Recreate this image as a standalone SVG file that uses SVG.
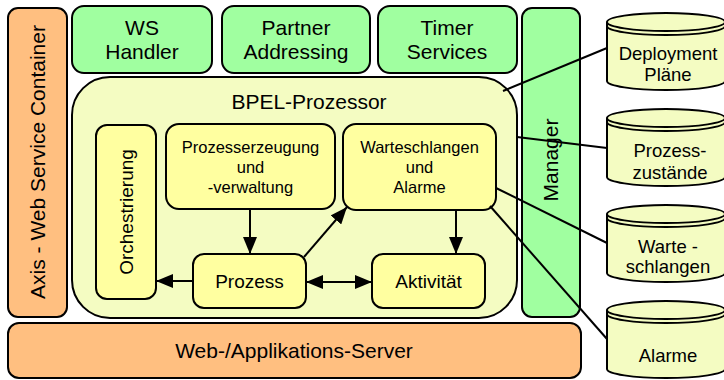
<svg xmlns="http://www.w3.org/2000/svg" width="724" height="380" viewBox="0 0 724 380">
<style>
text{font-family:"Liberation Sans",Arial,sans-serif;fill:#000;text-anchor:middle}
.b{stroke:#000;stroke-width:2}
.or{fill:#FFBF80}
.gr{fill:#A0FFA0}
.pa{fill:#F4FCC2}
.ye{fill:#FFFFA0}
.big{font-size:21px}
.mid{font-size:19px}
.sm{font-size:16.5px}
.cy{font-size:18.5px}
.ln{stroke:#000;stroke-width:2;fill:none}
</style>
<defs>
<marker id="ah" markerUnits="userSpaceOnUse" markerWidth="17" markerHeight="14" refX="17" refY="7" orient="auto-start-reverse">
<path d="M0,0 L17,7 L0,14 z" fill="#000"/>
</marker>
<g id="cyl">
<path class="b pa" d="M-59,0 L-59,59 A59,9 0 0 0 59,59 L59,0 A59,9 0 0 0 -59,0 z"/>
<path class="ln" d="M-59,0 A59,9 0 0 0 59,0"/>
<path class="ln" d="M-59,4 A59,9 0 0 0 59,4"/>
</g>
</defs>
<g id="web-server">
<rect class="b or" x="8" y="323" width="573" height="55" rx="11"/>
<text class="big" x="294" y="358">Web-/Applikations-Server</text>
</g>
<g id="axis">
<rect class="b or" x="8" y="8" width="59" height="309" rx="10"/>
<text class="big" transform="translate(45,162) rotate(-90)">Axis - Web Service Container</text>
</g>
<g id="manager">
<rect class="b gr" x="522" y="8" width="58" height="309" rx="10"/>
<text class="big" transform="translate(558,160) rotate(-90)">Manager</text>
</g>
<g id="ws-handler">
<rect class="b gr" x="72" y="6" width="140" height="67" rx="12"/>
<text class="big" x="142" y="35">WS</text>
<text class="big" x="142" y="59">Handler</text>
</g>
<g id="partner-addressing">
<rect class="b gr" x="222" y="6" width="148" height="67" rx="12"/>
<text class="big" x="296" y="35">Partner</text>
<text class="big" x="296" y="59">Addressing</text>
</g>
<g id="timer-services">
<rect class="b gr" x="378" y="6" width="139" height="67" rx="12"/>
<text class="big" x="447" y="35">Timer</text>
<text class="big" x="447" y="59">Services</text>
</g>
<g id="bpel">
<rect class="b pa" x="72" y="77" width="445" height="241" rx="38"/>
<text class="big" x="309" y="109">BPEL-Prozessor</text>
</g>
<g id="orchestrierung">
<rect class="b ye" x="96" y="125" width="60" height="174" rx="11"/>
<text class="mid" transform="translate(133,212) rotate(-90)">Orchestrierung</text>
</g>
<g id="prozesserzeugung">
<rect class="b ye" x="166" y="124" width="169" height="85" rx="13"/>
<text class="sm" x="250.5" y="153">Prozesserzeugung</text>
<text class="sm" x="250.5" y="173">und</text>
<text class="sm" x="250.5" y="193">-verwaltung</text>
</g>
<g id="warteschlangen">
<rect class="b ye" x="343" y="124" width="153" height="86" rx="13"/>
<text class="sm" x="419.5" y="153">Warteschlangen</text>
<text class="sm" x="419.5" y="173">und</text>
<text class="sm" x="419.5" y="193">Alarme</text>
</g>
<g id="prozess">
<rect class="b ye" x="193" y="254" width="113" height="54" rx="11"/>
<text class="mid" x="249.5" y="288">Prozess</text>
</g>
<g id="aktivitaet">
<rect class="b ye" x="372" y="254" width="113" height="54" rx="11"/>
<text class="mid" x="428.5" y="288">Aktivität</text>
</g>
<g id="deployment">
<use href="#cyl" x="666" y="22"/>
<text class="cy" x="668" y="60">Deployment</text>
<text class="cy" x="668" y="81">Pläne</text>
</g>
<g id="prozesszustaende">
<use href="#cyl" x="666" y="118"/>
<text class="cy" x="670" y="157">Prozess-</text>
<text class="cy" x="670" y="179">zustände</text>
</g>
<g id="warteschlangen-db">
<use href="#cyl" x="666" y="214"/>
<text class="cy" x="668" y="253">Warte -</text>
<text class="cy" x="668" y="273">schlangen</text>
</g>
<g id="alarme-db">
<use href="#cyl" x="666" y="310"/>
<text class="cy" x="668" y="362">Alarme</text>
</g>
<g id="connectors">
<path class="ln" d="M250,209 L250,254" marker-end="url(#ah)"/>
<path class="ln" d="M456,210 L456,254" marker-end="url(#ah)"/>
<path class="ln" d="M193,281 L156,281" marker-end="url(#ah)"/>
<path class="ln" d="M306,282 L372,282" marker-start="url(#ah)" marker-end="url(#ah)"/>
<path class="ln" d="M304,257 L347,207" marker-end="url(#ah)"/>
<path class="ln" d="M503,91 L607,48"/>
<path class="ln" d="M517,137 L607,148"/>
<path class="ln" d="M496,188 L607,243"/>
<path class="ln" d="M490,206 L607,339"/>
</g>
</svg>
